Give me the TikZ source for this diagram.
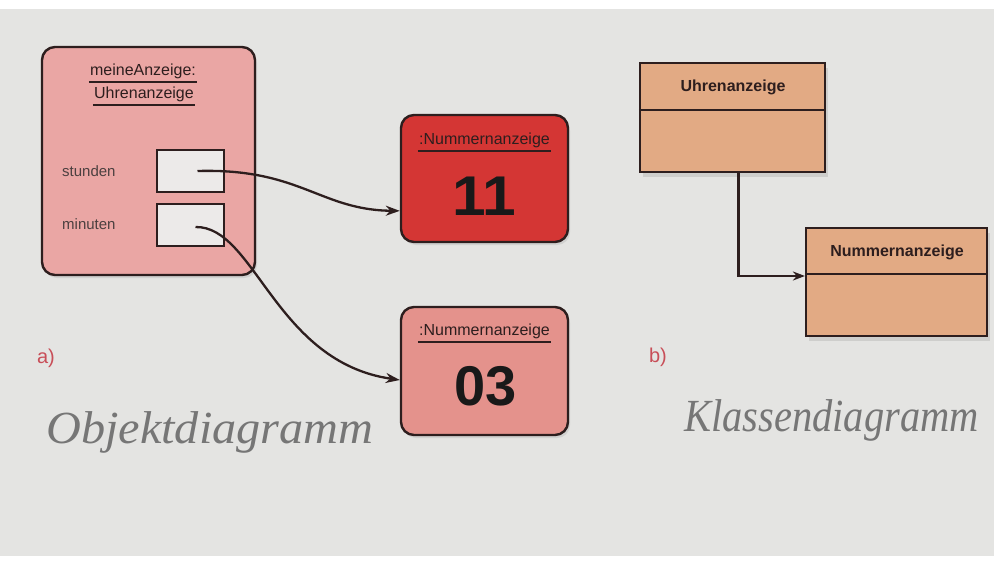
\documentclass[tikz,border=0pt]{standalone}
\usepackage{fontspec}
\setmainfont{Liberation Sans}
\newfontfamily\pencilfont{Liberation Serif}
\usetikzlibrary{calc,arrows.meta,shadows}

\definecolor{paper}{RGB}{228,228,226}
\definecolor{objpink}{RGB}{234,166,164}
\definecolor{hotred}{RGB}{212,54,52}
\definecolor{softred}{RGB}{228,146,140}
\definecolor{slot}{RGB}{236,234,233}
\definecolor{tan}{RGB}{226,170,132}
\definecolor{ink}{RGB}{45,30,30}
\definecolor{tagred}{RGB}{200,78,88}
\definecolor{pencil}{RGB}{118,118,118}

\tikzset{
  objbox/.style={draw=ink, line width=2.4pt, rounded corners=13pt, inner sep=0pt,
    drop shadow={shadow xshift=2pt, shadow yshift=-3pt, opacity=0.18}},
  slotbox/.style={draw=ink, line width=2.2pt, fill=slot, inner sep=0pt,
    minimum width=67pt, minimum height=42pt},
  clsbox/.style={draw=ink, line width=2.2pt, fill=tan, inner sep=0pt,
    drop shadow={shadow xshift=3pt, shadow yshift=-5pt, opacity=0.22}},
  lbl/.style={font=\fontsize{15}{17}\selectfont, text=ink!85, inner sep=0pt},
  ttl/.style={font=\fontsize{16}{18}\selectfont, text=ink, inner sep=1pt},
  clsname/.style={font=\bfseries\fontsize{16}{18}\selectfont, text=ink, inner sep=0pt},
  bignum/.style={font=\bfseries\fontsize{56}{60}\selectfont, text=black!90, inner sep=0pt},
  link/.style={draw=ink, line width=2.3pt, -{Stealth[length=14pt,width=10pt]}},
  tag/.style={font=\fontsize{20}{22}\selectfont, text=tagred, inner sep=0pt},
  hand/.style={font=\pencilfont\itshape\fontsize{46}{50}\selectfont, text=pencil, inner sep=0pt},
}

\begin{document}
\begin{tikzpicture}[x=1pt,y=-1pt]
  \useasboundingbox (0,0) rectangle (994,579);
  \fill[paper] (0,0) rectangle (994,579);
  \fill[white] (0,0) rectangle (994,9);
  \fill[white] (0,556) rectangle (994,579);

  % object diagram: the clock display object
  \node[objbox, fill=objpink, minimum width=213pt, minimum height=228pt] (clock) at (148.5,161) {};
  \node[ttl] (t1) at (143,71) {meineAnzeige:};
  \node[ttl] (t2) at (144,94) {Uhrenanzeige};
  \draw[ink, line width=2.2pt] ([yshift=-2pt]t1.south west) -- ([yshift=-2pt]t1.south east);
  \draw[ink, line width=2.2pt] ([yshift=-2pt]t2.south west) -- ([yshift=-2pt]t2.south east);

  \node[lbl, anchor=west] (lstd) at (62,171) {stunden};
  \node[lbl, anchor=west] (lmin) at (62,224) {minuten};
  \node[slotbox] (sstd) at (190.5,171) {};
  \node[slotbox] (smin) at (190.5,225) {};

  % number display objects
  \node[objbox, fill=hotred, minimum width=167pt, minimum height=127pt] (n11) at (484.5,178.5) {};
  \node[ttl] (h11) at (484.5,140) {:Nummernanzeige};
  \draw[ink, line width=2.2pt] ([yshift=-2pt]h11.south west) -- ([yshift=-2pt]h11.south east);
  \node[bignum, xscale=1.08] (v11) at (484.5,196) {11};

  \node[objbox, fill=softred, minimum width=167pt, minimum height=128pt] (n03) at (484.5,371) {};
  \node[ttl] (h03) at (484.5,331) {:Nummernanzeige};
  \draw[ink, line width=2.2pt] ([yshift=-2pt]h03.south west) -- ([yshift=-2pt]h03.south east);
  \node[bignum] (v03) at (485.5,386) {03};

  % references from the attribute slots
  \draw[link] ([xshift=7pt]sstd.center) .. controls (300,168) and (320,210) .. ($(n11.west)!0.5!(n11.south west)$);
  \draw[link] ([xshift=5pt,yshift=-2pt]smin.center) .. controls (255,226) and (275,362) .. ([yshift=-9pt]n03.west);

  % class diagram
  \node[clsbox, minimum width=185pt, minimum height=109pt] (cU) at (732.5,117.5) {};
  \draw[ink, line width=2.2pt] (cU.west |- 0,110) -- (cU.east |- 0,110);
  \node[clsname] (nU) at (733,87) {Uhrenanzeige};

  \node[clsbox, minimum width=181pt, minimum height=108pt] (cN) at (896.5,282) {};
  \draw[ink, line width=2.2pt] (cN.west |- 0,274) -- (cN.east |- 0,274);
  \node[clsname] (nN) at (897,252) {Nummernanzeige};

  \coordinate (cNin) at (cN.west |- 0,276);
  \draw[link, line width=2.1pt, -{Stealth[length=12pt,width=9pt]}] ([xshift=6pt]cU.south) |- (cNin);

  % part labels and pencil notes
  \node[tag] (ta) at (46,358) {a)};
  \node[tag] (tb) at (658,357) {b)};
  \node[hand, anchor=west, xscale=1.05] (wa) at (46,432) {Objektdiagramm};
  \node[hand, anchor=west, xscale=0.88] (wb) at (684,420) {Klassendiagramm};
\end{tikzpicture}
\end{document}
